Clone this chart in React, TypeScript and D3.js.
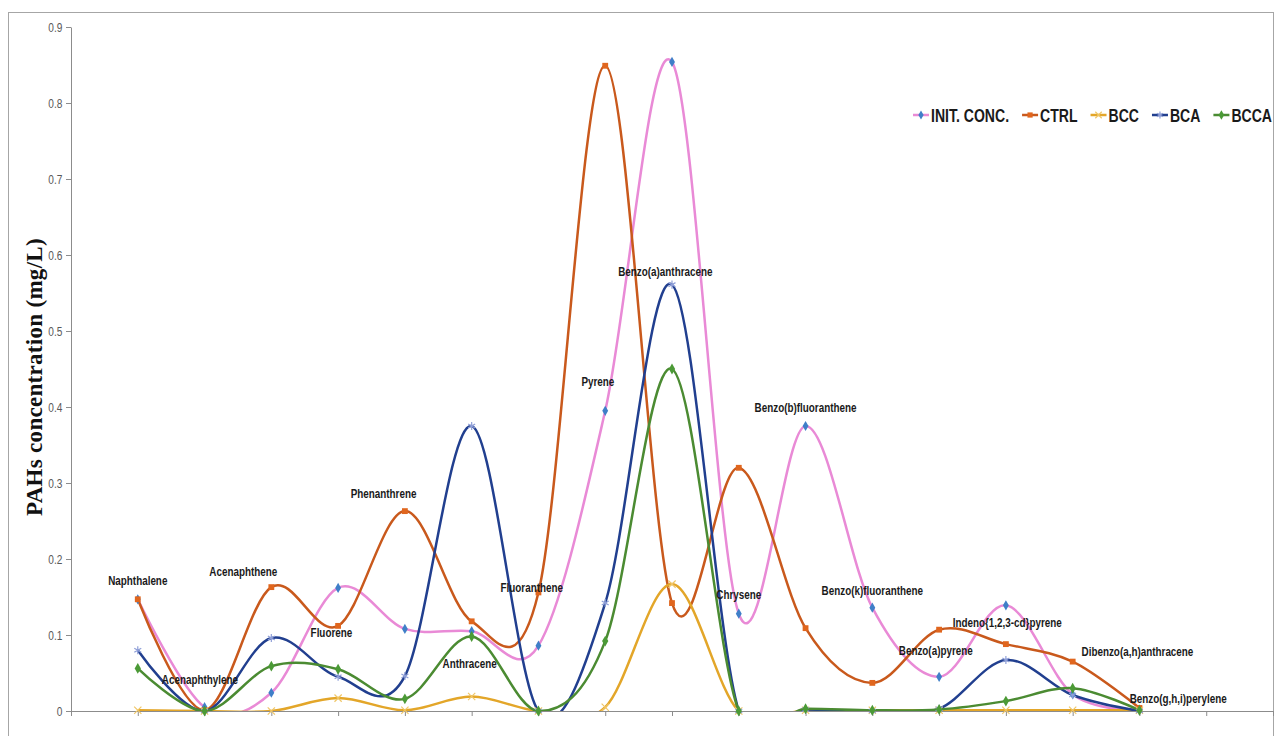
import React, { useEffect, useRef } from 'react';
import * as d3 from 'd3';

const compounds = [
  'Naphthalene', 'Acenaphthylene', 'Acenaphthene', 'Fluorene', 'Phenanthrene', 'Anthracene',
  'Fluoranthene', 'Pyrene', 'Benzo(a)anthracene', 'Chrysene', 'Benzo(b)fluoranthene',
  'Benzo(k)fluoranthene', 'Benzo(a)pyrene', 'Indeno{1,2,3-cd}pyrene', 'Dibenzo(a,h)anthracene',
  'Benzo(g,h,i)perylene'
];

const initConc = [0.147, 0.005, 0.024, 0.162, 0.108, 0.105, 0.086, 0.395, 0.854, 0.128, 0.375, 0.136, 0.045, 0.139, 0.022, 0.002];
const ctrl = [0.147, 0.001, 0.163, 0.112, 0.263, 0.118, 0.156, 0.849, 0.142, 0.320, 0.109, 0.037, 0.107, 0.088, 0.065, 0.004];
const bcc = [0.001, 0.0, 0.0, 0.017, 0.001, 0.019, 0.0, 0.005, 0.167, 0.0, 0.001, 0.001, 0.001, 0.001, 0.001, 0.001];
const bca = [0.080, 0.0, 0.096, 0.045, 0.046, 0.375, 0.0, 0.142, 0.561, 0.0, 0.002, 0.0, 0.003, 0.067, 0.021, 0.0];
const bcca = [0.056, 0.0, 0.059, 0.055, 0.016, 0.098, 0.0, 0.092, 0.450, 0.0, 0.003, 0.001, 0.002, 0.013, 0.030, 0.001];

const seriesNames = ['INIT. CONC.', 'CTRL', 'BCC', 'BCA', 'BCCA'];
const yTicks = [0, 0.1, 0.2, 0.3, 0.4, 0.5, 0.6, 0.7, 0.8, 0.9];

// where each compound name sits (x in category units, y in mg/L)
const labelX = [1.0, 1.93, 2.58, 3.9, 4.68, 5.97, 6.9, 7.89, 8.9, 10.0, 11.0, 12.0, 12.95, 14.02, 15.97, 16.58];
const labelY = [0.172, 0.041, 0.183, 0.104, 0.286, 0.062, 0.162, 0.433, 0.579, 0.153, 0.4, 0.159, 0.080, 0.117, 0.079, 0.017];

// no condensed face installed, so squeeze Liberation Sans horizontally
const sans = '"Liberation Sans", Arial, sans-serif';

export default function App() {
  const svgRef = useRef<SVGSVGElement>(null);

  useEffect(() => {
    document.body.style.margin = '0';
    const W = 1274, H = 736;
    const svg = d3.select(svgRef.current);
    svg.selectAll('*').remove();
    svg.attr('width', W).attr('height', H);

    const x = d3.scaleLinear().domain([0, 18]).range([71, 1273]);
    const y = d3.scaleLinear().domain([0, 0.9]).range([711, 27]);

    // chart border
    svg.append('rect')
      .attr('x', 8.5).attr('y', 12.5)
      .attr('width', 1265).attr('height', 740)
      .attr('fill', 'white')
      .attr('stroke', '#a6a6a6');

    svg.append('defs').append('clipPath').attr('id', 'plot')
      .append('rect')
      .attr('x', x(0)).attr('y', y(0.9) - 10)
      .attr('width', x(18) - x(0)).attr('height', y(0) - y(0.9) + 10);

    // axes
    const yAxis = svg.append('g')
      .attr('transform', `translate(${x(0)},0)`)
      .call(d3.axisLeft(y).tickValues(yTicks).tickSize(5).tickSizeOuter(0).tickPadding(6)
        .tickFormat(d => String(d)));
    const xAxis = svg.append('g')
      .attr('transform', `translate(0,${y(0)})`)
      .call(d3.axisBottom(x).tickValues(d3.range(0, 19)).tickSize(5).tickSizeOuter(0)
        .tickFormat(() => ''));
    [yAxis, xAxis].forEach(g => {
      g.selectAll('path, line').attr('stroke', '#8c8c8c').attr('stroke-width', 1);
    });
    yAxis.selectAll('text')
      .attr('fill', '#595959')
      .attr('font-size', 13)
      .attr('font-family', sans)
      .attr('transform', 'scale(0.78,1)');

    svg.append('text')
      .attr('transform', 'translate(42,377) rotate(-90)')
      .attr('text-anchor', 'middle')
      .attr('font-family', '"Liberation Serif", "Times New Roman", serif')
      .attr('font-weight', 'bold')
      .attr('font-size', 23)
      .attr('letter-spacing', 0.3)
      .attr('fill', '#111')
      .text('PAHs concentration  (mg/L)');

    const series = [
      { name: seriesNames[0], values: initConc, line: '#e98ad6', marker: '#3f7fc8', shape: d3.symbolDiamond, size: 30, stroke: false },
      { name: seriesNames[1], values: ctrl, line: '#c9591c', marker: '#e0661e', shape: d3.symbolSquare, size: 34, stroke: false },
      { name: seriesNames[2], values: bcc, line: '#e3a629', marker: '#f0c768', shape: d3.symbolX, size: 36, stroke: true },
      { name: seriesNames[3], values: bca, line: '#213f8f', marker: '#8f9fd8', shape: d3.symbolAsterisk, size: 45, stroke: true },
      { name: seriesNames[4], values: bcca, line: '#4b8b32', marker: '#4b9a36', shape: d3.symbolDiamond, size: 34, stroke: false },
    ];

    const line = d3.line<number>()
      .x((_, i) => x(i + 1))
      .y(d => y(d))
      .curve(d3.curveCatmullRom.alpha(0));

    const plot = svg.append('g').attr('clip-path', 'url(#plot)');

    series.forEach(s => {
      plot.append('path')
        .datum(s.values)
        .attr('fill', 'none')
        .attr('stroke', s.line)
        .attr('stroke-width', 2.5)
        .attr('d', line);
      svg.append('g').selectAll('path')
        .data(s.values)
        .enter()
        .append('path')
        .attr('transform', (d, i) => `translate(${x(i + 1)},${y(d)})`)
        .attr('d', d3.symbol(s.shape, s.size)())
        .attr('fill', s.stroke ? 'none' : s.marker)
        .attr('stroke', s.marker)
        .attr('stroke-width', s.stroke ? 1.2 : 0);
    });

    // compound labels
    svg.append('g').selectAll('text')
      .data(compounds)
      .enter()
      .append('text')
      .attr('transform', (_, i) => `translate(${x(labelX[i])},${y(labelY[i])}) scale(0.76,1)`)
      .attr('dy', '0.35em')
      .attr('text-anchor', 'middle')
      .attr('font-family', sans)
      .attr('font-weight', 'bold')
      .attr('font-size', 13)
      .attr('fill', '#1a1a1a')
      .text(d => d);

    // legend, right-aligned
    const legend = svg.append('g');
    const squeeze = 0.74;
    const items = series.map(s => {
      const g = legend.append('g');
      g.append('line')
        .attr('x1', 0).attr('x2', 16).attr('y1', 0).attr('y2', 0)
        .attr('stroke', s.line).attr('stroke-width', 2.5);
      g.append('path')
        .attr('transform', 'translate(8,0)')
        .attr('d', d3.symbol(s.shape, s.size * 0.8)())
        .attr('fill', s.stroke ? 'none' : s.marker)
        .attr('stroke', s.marker)
        .attr('stroke-width', s.stroke ? 1.2 : 0);
      const t = g.append('text')
        .attr('transform', `translate(18,0) scale(${squeeze},1)`)
        .attr('dy', '0.35em')
        .attr('font-family', sans)
        .attr('font-weight', 'bold')
        .attr('font-size', 19)
        .attr('fill', '#1a1a1a')
        .text(s.name);
      return { g, w: 18 + squeeze * (t.node() as SVGTextElement).getComputedTextLength() };
    });
    const gap = 13;
    let cx = 1272 - d3.sum(items, d => d.w) - gap * (items.length - 1);
    items.forEach(it => {
      it.g.attr('transform', `translate(${cx},115)`);
      cx += it.w + gap;
    });
  }, []);

  return <svg ref={svgRef} style={{ display: 'block' }}></svg>;
}
